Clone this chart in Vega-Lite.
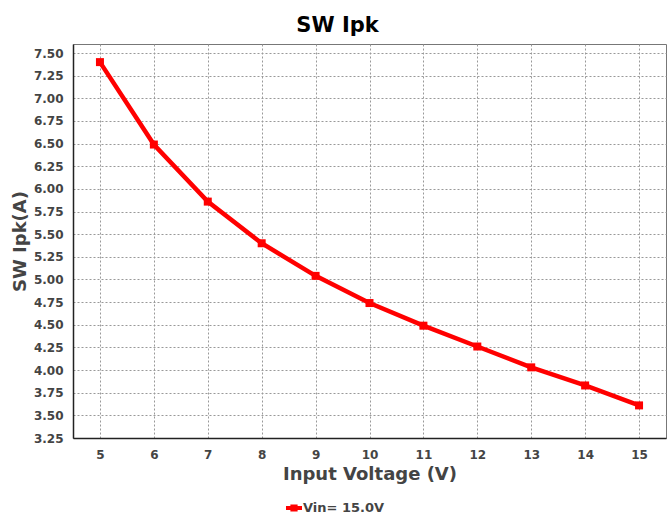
{
  "$schema": "https://vega.github.io/schema/vega-lite/v6.json",
  "autosize": "none",
  "width": 593,
  "height": 394,
  "padding": {"left": 73, "top": 44, "right": 1, "bottom": 74},
  "background": "white",
  "config": {
    "font": "DejaVu Sans",
    "view": {"stroke": "#777", "strokeWidth": 1},
    "axis": {
      "domainColor": "#222",
      "domainWidth": 1.5,
      "ticks": false,
      "tickSize": 0,
      "labelFont": "DejaVu Sans",
      "labelFontWeight": "bold",
      "labelFontSize": 12,
      "labelColor": "#444",
      "gridColor": "#999",
      "gridDash": [2, 2],
      "gridWidth": 1,
      "titleFont": "DejaVu Sans",
      "titleFontWeight": "bold",
      "titleColor": "#444"
    }
  },
  "title": {
    "text": "SW Ipk",
    "font": "DejaVu Sans",
    "fontSize": 21,
    "fontWeight": "bold",
    "color": "#000",
    "offset": 8,
    "dx": -32,
    "anchor": "middle"
  },
  "data": {
    "values": [
      {"vin": 5, "ipk": 7.40, "series": "Vin= 15.0V"},
      {"vin": 6, "ipk": 6.49, "series": "Vin= 15.0V"},
      {"vin": 7, "ipk": 5.86, "series": "Vin= 15.0V"},
      {"vin": 8, "ipk": 5.40, "series": "Vin= 15.0V"},
      {"vin": 9, "ipk": 5.04, "series": "Vin= 15.0V"},
      {"vin": 10, "ipk": 4.74, "series": "Vin= 15.0V"},
      {"vin": 11, "ipk": 4.49, "series": "Vin= 15.0V"},
      {"vin": 12, "ipk": 4.26, "series": "Vin= 15.0V"},
      {"vin": 13, "ipk": 4.03, "series": "Vin= 15.0V"},
      {"vin": 14, "ipk": 3.83, "series": "Vin= 15.0V"},
      {"vin": 15, "ipk": 3.61, "series": "Vin= 15.0V"}
    ]
  },
  "mark": {
    "type": "line",
    "strokeWidth": 4.5,
    "point": {"shape": "square", "size": 64, "filled": true, "opacity": 1}
  },
  "encoding": {
    "x": {
      "field": "vin",
      "type": "quantitative",
      "scale": {"domain": [4.5, 15.5], "nice": false, "zero": false},
      "axis": {
        "values": [5, 6, 7, 8, 9, 10, 11, 12, 13, 14, 15],
        "format": "d",
        "title": "Input Voltage (V)",
        "titleFontSize": 18,
        "labelPadding": 11,
        "titlePadding": 5
      }
    },
    "y": {
      "field": "ipk",
      "type": "quantitative",
      "scale": {"domain": [3.25, 7.6], "nice": false, "zero": false},
      "axis": {
        "values": [3.25, 3.5, 3.75, 4, 4.25, 4.5, 4.75, 5, 5.25, 5.5, 5.75, 6, 6.25, 6.5, 6.75, 7, 7.25, 7.5],
        "format": ".2f",
        "title": "SW Ipk(A)",
        "titleFontSize": 18,
        "labelPadding": 10,
        "titlePadding": 4
      }
    },
    "color": {
      "field": "series",
      "type": "nominal",
      "scale": {"range": ["#ff0000"]},
      "legend": {
        "orient": "none",
        "legendX": 213,
        "legendY": 456,
        "title": null,
        "symbolType": "M-1,-0.25H1V0.25H-1Z M-0.45,-0.45H0.45V0.45H-0.45Z",
        "symbolSize": 256,
        "symbolStrokeWidth": 0,
        "symbolFillColor": "#ff0000",
        "labelFont": "DejaVu Sans",
        "labelFontSize": 13,
        "labelFontWeight": "bold",
        "labelColor": "#444",
        "labelOffset": 1
      }
    }
  }
}
